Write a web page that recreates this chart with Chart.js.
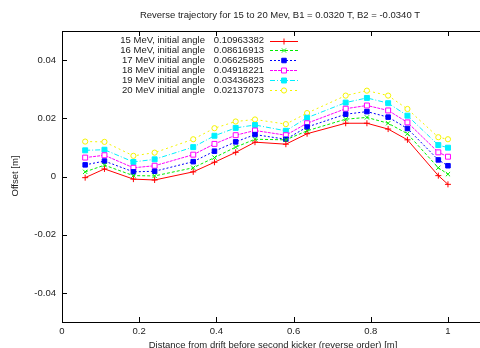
<!DOCTYPE html>
<html>
<head>
<meta charset="utf-8">
<script src="https://cdn.jsdelivr.net/npm/chart.js@4/dist/chart.umd.min.js"></script>
<style>
  html, body { margin: 0; padding: 0; background: #fff; overflow: hidden; }
  #wrap { width: 480px; height: 348px; }
</style>
</head>
<body>
<div id="wrap"><canvas id="chart" width="480" height="348"></canvas></div>
<script>
// ---- data ----
const xPos  = [0.06, 0.11, 0.185, 0.24, 0.34, 0.395, 0.45, 0.5, 0.58, 0.635, 0.735, 0.79, 0.845, 0.895, 0.975, 1.0];
const off15 = [-0.0004, 0.0026, -0.0009, -0.0012, 0.0016, 0.0049, 0.0083, 0.0118, 0.0111, 0.0147, 0.0183, 0.0183, 0.0163, 0.0126, 0.0003, -0.0027];
const off16 = [0.0016, 0.0039, 0.0003, 0.0002, 0.0030, 0.0065, 0.0101, 0.0128, 0.0126, 0.0157, 0.0197, 0.0203, 0.0183, 0.0147, 0.0030, 0.0008];
const off17 = [0.0040, 0.0053, 0.0016, 0.0018, 0.0051, 0.0087, 0.0119, 0.0144, 0.0128, 0.0170, 0.0214, 0.0223, 0.0204, 0.0165, 0.0057, 0.0037];
const off18 = [0.0065, 0.0073, 0.0030, 0.0037, 0.0075, 0.0112, 0.0142, 0.0158, 0.0142, 0.0183, 0.0233, 0.0244, 0.0227, 0.0186, 0.0083, 0.0068];
const off19 = [0.0090, 0.0092, 0.0050, 0.0059, 0.0101, 0.0140, 0.0167, 0.0177, 0.0157, 0.0202, 0.0254, 0.0270, 0.0252, 0.0209, 0.0108, 0.0099];
const off20 = [0.0120, 0.0119, 0.0071, 0.0082, 0.0128, 0.0166, 0.0189, 0.0196, 0.0180, 0.0218, 0.0278, 0.0295, 0.0278, 0.0232, 0.0135, 0.0128];

const names  = ["15 MeV, initial angle", "16 MeV, initial angle", "17 MeV initial angle",
                "18 MeV initial angle", "19 MeV initial angle", "20 MeV initial angle"];
const angles = ["0.10963382", "0.08616913", "0.06625885", "0.04918221", "0.03436823", "0.02137073"];

const xTicks = [0, 0.2, 0.4, 0.6, 0.8, 1];
const yTicks = [-0.04, -0.02, 0, 0.02, 0.04];

const TITLE  = "Reverse trajectory for 15 to 20 Mev, B1 = 0.0320 T, B2 = -0.0340 T";
const XTITLE = "Distance from drift before second kicker (reverse order) [m]";
const YTITLE = "Offset [m]";

const FONT = "9.5px 'Liberation Sans', Arial, sans-serif";
const INK  = "#222";

// ---- series styles (gnuplot look) ----
const styles = [
  { color: "#ff0000", dash: [],           point: "cross",    fill: "#ff0000", r: 3 },
  { color: "#00ee00", dash: [3, 2],       point: "crossRot", fill: "#00ee00", r: 3 },
  { color: "#0000ff", dash: [2, 2],       point: "rect",     fill: "#0000ff", r: 3.2 },
  { color: "#ff00ff", dash: [3, 1],       point: "rect",     fill: "#ffffff", r: 3.5 },
  { color: "#00f0ff", dash: [5, 2, 1, 2], point: "rect",     fill: "#00f0ff", r: 3.5 },
  { color: "#f4f400", dash: [2, 3],       point: "circle",   fill: "#ffffff", r: 2.6 },
];
const series = [off15, off16, off17, off18, off19, off20];

const datasets = series.map((ys, i) => ({
  label: names[i],
  data: ys.map((y, k) => ({ x: xPos[k], y })),
  borderColor: styles[i].color,
  borderWidth: 1,
  borderDash: styles[i].dash,
  pointStyle: styles[i].point,
  pointRadius: styles[i].r,
  pointBorderWidth: 1,
  pointBorderColor: styles[i].color,
  pointBackgroundColor: styles[i].fill,
  tension: 0,
  fill: false,
}));

const fmt = v => String(Number(v.toFixed(2)));

// frame, inward ticks, titles and the key, drawn gnuplot-style
const gnuplotDecor = {
  id: "gnuplotDecor",
  afterDraw(chart) {
    const { ctx, chartArea: a, scales } = chart;
    ctx.save();
    ctx.strokeStyle = "#000";
    ctx.lineWidth = 1;
    ctx.setLineDash([]);

    // top border
    ctx.beginPath();
    ctx.moveTo(a.left, a.top + 0.5);
    ctx.lineTo(a.right, a.top + 0.5);
    ctx.stroke();

    // ticks pointing inward
    const TL = 5;
    ctx.beginPath();
    xTicks.forEach(v => {
      const px = Math.round(scales.x.getPixelForValue(v)) + 0.5;
      ctx.moveTo(px, a.bottom); ctx.lineTo(px, a.bottom - TL);
      ctx.moveTo(px, a.top);    ctx.lineTo(px, a.top + TL);
    });
    yTicks.forEach(v => {
      const py = Math.round(scales.y.getPixelForValue(v)) + 0.5;
      ctx.moveTo(a.left, py); ctx.lineTo(a.left + TL, py);
    });
    ctx.stroke();

    // titles
    ctx.fillStyle = INK;
    ctx.font = FONT;
    ctx.textAlign = "center";
    ctx.textBaseline = "middle";
    ctx.fillText(TITLE, 280, 15);
    ctx.fillText(XTITLE, 273, 345);
    ctx.save();
    ctx.translate(15, 176);
    ctx.rotate(-Math.PI / 2);
    ctx.fillText(YTITLE, 0, 0);
    ctx.restore();

    // key
    names.forEach((name, i) => {
      const y = 40.5 + i * 9.9;
      ctx.fillStyle = INK;
      ctx.textAlign = "right";
      ctx.fillText(name, 205, y);
      ctx.fillText(angles[i], 264, y);

      const s = styles[i];
      const ly = Math.round(y) + 0.5;
      ctx.strokeStyle = s.color;
      ctx.setLineDash(s.dash);
      ctx.beginPath();
      ctx.moveTo(270, ly);
      ctx.lineTo(298, ly);
      ctx.stroke();
      ctx.setLineDash([]);
      ctx.fillStyle = s.fill;
      Chart.helpers.drawPoint(ctx, { pointStyle: s.point, radius: s.r, rotation: 0, borderWidth: 1 }, 284, ly);
    });
    ctx.restore();
  },
};

new Chart(document.getElementById("chart"), {
  type: "line",
  data: { datasets },
  plugins: [gnuplotDecor],
  options: {
    responsive: false,
    animation: false,
    events: [],
    layout: { autoPadding: false, padding: { top: 31, right: 0, left: 0, bottom: 0 } },
    plugins: { legend: { display: false }, tooltip: { enabled: false } },
    scales: {
      x: {
        type: "linear",
        min: 0,
        max: 1.083,
        afterBuildTicks: s => { s.ticks = xTicks.map(value => ({ value })); },
        afterFit: s => { s.height = 26; s.paddingLeft = 0; s.paddingRight = 0; },
        grid: { display: false, drawTicks: false },
        border: { display: true, color: "#000", width: 1 },
        ticks: { color: INK, font: { family: "'Liberation Sans', Arial, sans-serif", size: 9.5 }, padding: 4, maxRotation: 0, callback: fmt },
      },
      y: {
        min: -0.05,
        max: 0.05,
        afterBuildTicks: s => { s.ticks = yTicks.map(value => ({ value })); },
        afterFit: s => { s.width = 62; s.paddingTop = 0; s.paddingBottom = 0; },
        grid: { display: false, drawTicks: false },
        border: { display: true, color: "#000", width: 1 },
        ticks: { color: INK, font: { family: "'Liberation Sans', Arial, sans-serif", size: 9.5 }, padding: 6, callback: fmt },
      },
    },
  },
});
</script>
</body>
</html>
